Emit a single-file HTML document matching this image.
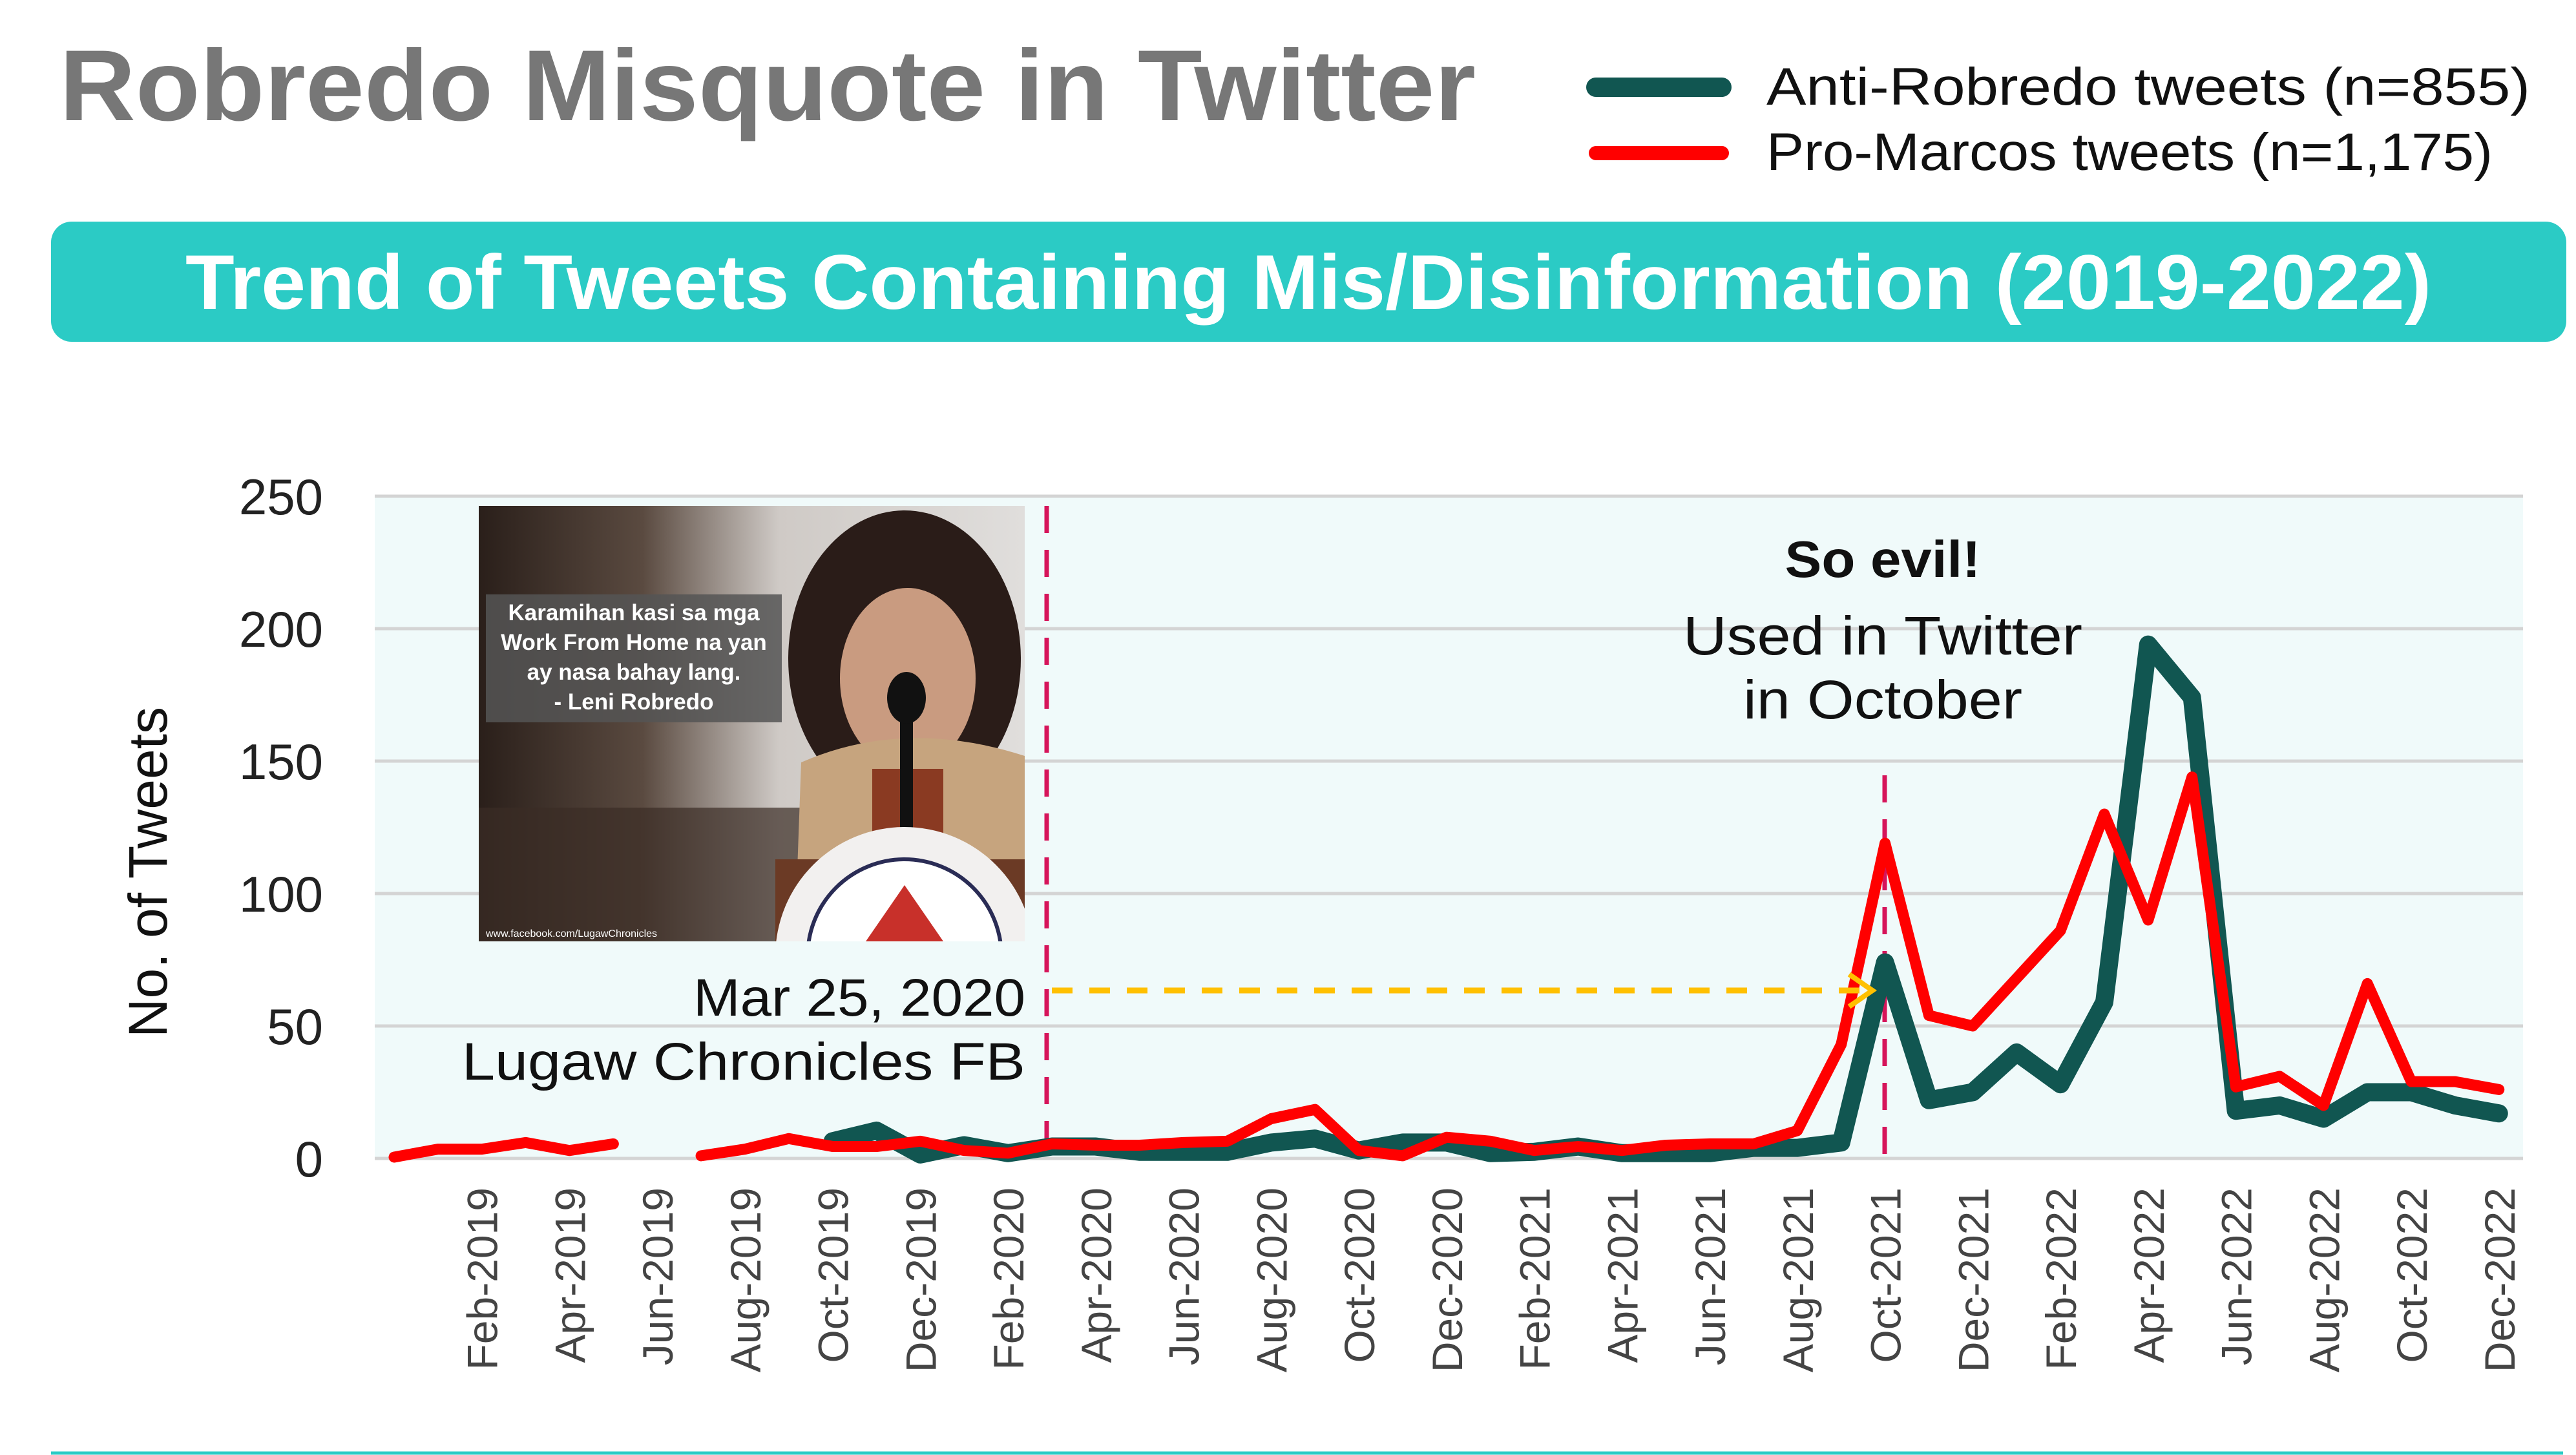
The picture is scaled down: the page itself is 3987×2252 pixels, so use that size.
<!DOCTYPE html>
<html><head><meta charset="utf-8"><style>
html,body{margin:0;padding:0;background:#fff;}
svg{display:block;font-family:"Liberation Sans",sans-serif;}
</style></head><body>
<svg id="chart" width="3987" height="2252" viewBox="0 0 3987 2252">
<defs>
<linearGradient id="bg" x1="0" x2="1" y1="0" y2="0">
<stop offset="0" stop-color="#2a1f1a"/><stop offset="0.3" stop-color="#5a4a40"/><stop offset="0.55" stop-color="#cfcac6"/><stop offset="1" stop-color="#e0dedc"/>
</linearGradient>
<clipPath id="photoClip"><rect x="741" y="783" width="845" height="674"/></clipPath>
</defs>
<text x="92" y="186" font-size="156" font-weight="bold" fill="#777" textLength="2192" lengthAdjust="spacingAndGlyphs">Robredo Misquote in Twitter</text>
<g>
<line x1="2470" y1="135" x2="2665" y2="135" stroke="#115651" stroke-width="30" stroke-linecap="round"/>
<text x="2734" y="162" font-size="82" fill="#111" textLength="1182" lengthAdjust="spacingAndGlyphs">Anti-Robredo tweets (n=855)</text>
<line x1="2470" y1="237" x2="2665" y2="237" stroke="#ff0000" stroke-width="22" stroke-linecap="round"/>
<text x="2734" y="263" font-size="82" fill="#111" textLength="1124" lengthAdjust="spacingAndGlyphs">Pro-Marcos tweets (n=1,175)</text>
</g>
<rect x="79" y="343" width="3893" height="186" rx="32" fill="#2BCBC5"/>
<text x="2025" y="478" text-anchor="middle" font-size="120" font-weight="bold" fill="#fff" textLength="3476" lengthAdjust="spacingAndGlyphs">Trend of Tweets Containing Mis/Disinformation (2019-2022)</text>
<rect x="580" y="768" width="3325" height="1025" fill="#F0FAFA"/>
<g id="grid"></g>
<g id="yticks"></g>
<text transform="translate(258,1350) rotate(-90)" text-anchor="middle" font-size="84" fill="#111">No. of Tweets</text>
<g id="xticks"></g>
<g clip-path="url(#photoClip)">
<rect x="741" y="783" width="845" height="674" fill="url(#bg)"/>
<rect x="741" y="1250" width="500" height="207" fill="#3a2c25" opacity="0.7"/>
<ellipse cx="1400" cy="1020" rx="180" ry="230" fill="#2a1c18"/>
<ellipse cx="1405" cy="1050" rx="105" ry="140" fill="#c99b80"/>
<path d="M1230 1457 L1240 1180 Q1400 1110 1586 1170 L1586 1457 Z" fill="#c6a47e"/>
<rect x="1350" y="1190" width="110" height="267" fill="#8a3a22"/>
<rect x="1393" y="1090" width="20" height="260" fill="#111"/>
<ellipse cx="1403" cy="1080" rx="30" ry="40" fill="#111"/>
<rect x="1200" y="1330" width="386" height="127" fill="#6b3a25"/>
<circle cx="1400" cy="1480" r="200" fill="#f2f0ef"/>
<circle cx="1400" cy="1480" r="150" fill="#fff" stroke="#2a2c55" stroke-width="6"/>
<polygon points="1340,1457 1400,1370 1460,1457" fill="#c8302a"/>
<rect x="752" y="920" width="458" height="198" fill="#555" opacity="0.85"/>
<text x="981" y="960" text-anchor="middle" font-size="35" font-weight="bold" fill="#fff">Karamihan kasi sa mga</text>
<text x="981" y="1006" text-anchor="middle" font-size="35" font-weight="bold" fill="#fff">Work From Home na yan</text>
<text x="981" y="1052" text-anchor="middle" font-size="35" font-weight="bold" fill="#fff">ay nasa bahay lang.</text>
<text x="981" y="1098" text-anchor="middle" font-size="35" font-weight="bold" fill="#fff">- Leni Robredo</text>
<text x="752" y="1450" font-size="16" fill="#fff">www.facebook.com/LugawChronicles</text>
</g>
<line x1="1620" y1="783" x2="1620" y2="1800" stroke="#D6145A" stroke-width="7" stroke-dasharray="42 26"/>
<line x1="2917" y1="1200" x2="2917" y2="1805" stroke="#D6145A" stroke-width="7" stroke-dasharray="42 26"/>
<g id="series"></g>
<g>
<line x1="1628" y1="1533" x2="2880" y2="1533" stroke="#FFC000" stroke-width="9" stroke-dasharray="32 26"/>
<polyline points="2862,1508 2898,1533 2862,1558" fill="none" stroke="#FFC000" stroke-width="8"/>
</g>
<text x="1587" y="1572" text-anchor="end" font-size="82" fill="#111" textLength="514" lengthAdjust="spacingAndGlyphs">Mar 25, 2020</text>
<text x="1587" y="1671" text-anchor="end" font-size="82" fill="#111" textLength="872" lengthAdjust="spacingAndGlyphs">Lugaw Chronicles FB</text>
<text x="2914" y="893" text-anchor="middle" font-size="80" font-weight="bold" fill="#111" textLength="303" lengthAdjust="spacingAndGlyphs">So evil!</text>
<text x="2914" y="1013" text-anchor="middle" font-size="84" fill="#111" textLength="618" lengthAdjust="spacingAndGlyphs">Used in Twitter</text>
<text x="2914" y="1112" text-anchor="middle" font-size="84" fill="#111" textLength="432" lengthAdjust="spacingAndGlyphs">in October</text>
<line x1="79" y1="2249" x2="3967" y2="2249" stroke="#2BCBC5" stroke-width="5"/>
</svg>
<script>
const months = ["Dec-2018","Jan-2019","Feb-2019","Mar-2019","Apr-2019","May-2019","Jun-2019","Jul-2019","Aug-2019","Sep-2019","Oct-2019","Nov-2019","Dec-2019","Jan-2020","Feb-2020","Mar-2020","Apr-2020","May-2020","Jun-2020","Jul-2020","Aug-2020","Sep-2020","Oct-2020","Nov-2020","Dec-2020","Jan-2021","Feb-2021","Mar-2021","Apr-2021","May-2021","Jun-2021","Jul-2021","Aug-2021","Sep-2021","Oct-2021","Nov-2021","Dec-2021","Jan-2022","Feb-2022","Mar-2022","Apr-2022","May-2022","Jun-2022","Jul-2022","Aug-2022","Sep-2022","Oct-2022","Nov-2022","Dec-2022"];
const proMarcos = [0.5,3.5,3.5,6,3,5.5,null,1,3.5,7.5,4.5,4.5,6.5,3,2,5.5,5,5,6,6.5,15,18.5,3,1,8,6.5,3,4.5,3,5,5.5,5.5,10.5,43,119,54,50,68,86,130,90,144,27,31,20,66,29,29,26];
const antiRobredo = [null,null,null,null,null,null,null,null,null,null,6.5,10.5,1.5,5,2,4.5,4.5,2.5,2.5,2.5,6,7.5,3,6,6,2,2.5,4.5,2,2,2,4,4,6,74,22,25,40,28,59,194,174,18,20,15,25,25,20,17];
const yTicks = [0,50,100,150,200,250];

const svgNS = "http://www.w3.org/2000/svg";
const X0 = 610, DX = 67.87, Y0 = 1793, UNIT = 4.1;
function xScale(i){ return X0 + i*DX; }
function yScale(v){ return Y0 - v*UNIT; }
function mk(tag, attrs, parent){ const e=document.createElementNS(svgNS,tag); for(const k in attrs) e.setAttribute(k,attrs[k]); parent.appendChild(e); return e; }

const grid = document.getElementById('grid');
const yt = document.getElementById('yticks');
yTicks.forEach(v=>{
  const l = mk('line',{x1:580,x2:3905,y1:yScale(v),y2:yScale(v),stroke:'#d4d4d4','stroke-width':5},grid);
  
  
  const t = mk('text',{x:500,y:yScale(v)+28,'text-anchor':'end','font-size':78,fill:'#222'},yt);
  t.textContent = v;
  
  
});

const xt = document.getElementById('xticks');
months.forEach((m,i)=>{
  if(i<2 || i%2!==0) return;
  const x = xScale(i);
  const t = mk('text',{transform:`translate(${x+24},1838) rotate(-90)`,'text-anchor':'end','font-size':66,fill:'#444'},xt);
  t.textContent = m;
  
  
});

function segments(arr){
  const segs=[]; let cur=[];
  arr.forEach((v,i)=>{ if(v===null){ if(cur.length) segs.push(cur); cur=[]; } else cur.push([xScale(i),yScale(v)]); });
  if(cur.length) segs.push(cur);
  return segs;
}
const series = document.getElementById('series');
segments(antiRobredo).forEach(s=>{
  const p = mk('polyline',{points:s.map(q=>q.join(',')).join(' '),fill:'none',stroke:'#115651','stroke-width':28,'stroke-linejoin':'round','stroke-linecap':'round'},series);
  
  
});
segments(proMarcos).forEach(s=>{
  const p = mk('polyline',{points:s.map(q=>q.join(',')).join(' '),fill:'none',stroke:'#ff0000','stroke-width':17,'stroke-linejoin':'round','stroke-linecap':'round'},series);
  
  
});
</script>
</body></html>
